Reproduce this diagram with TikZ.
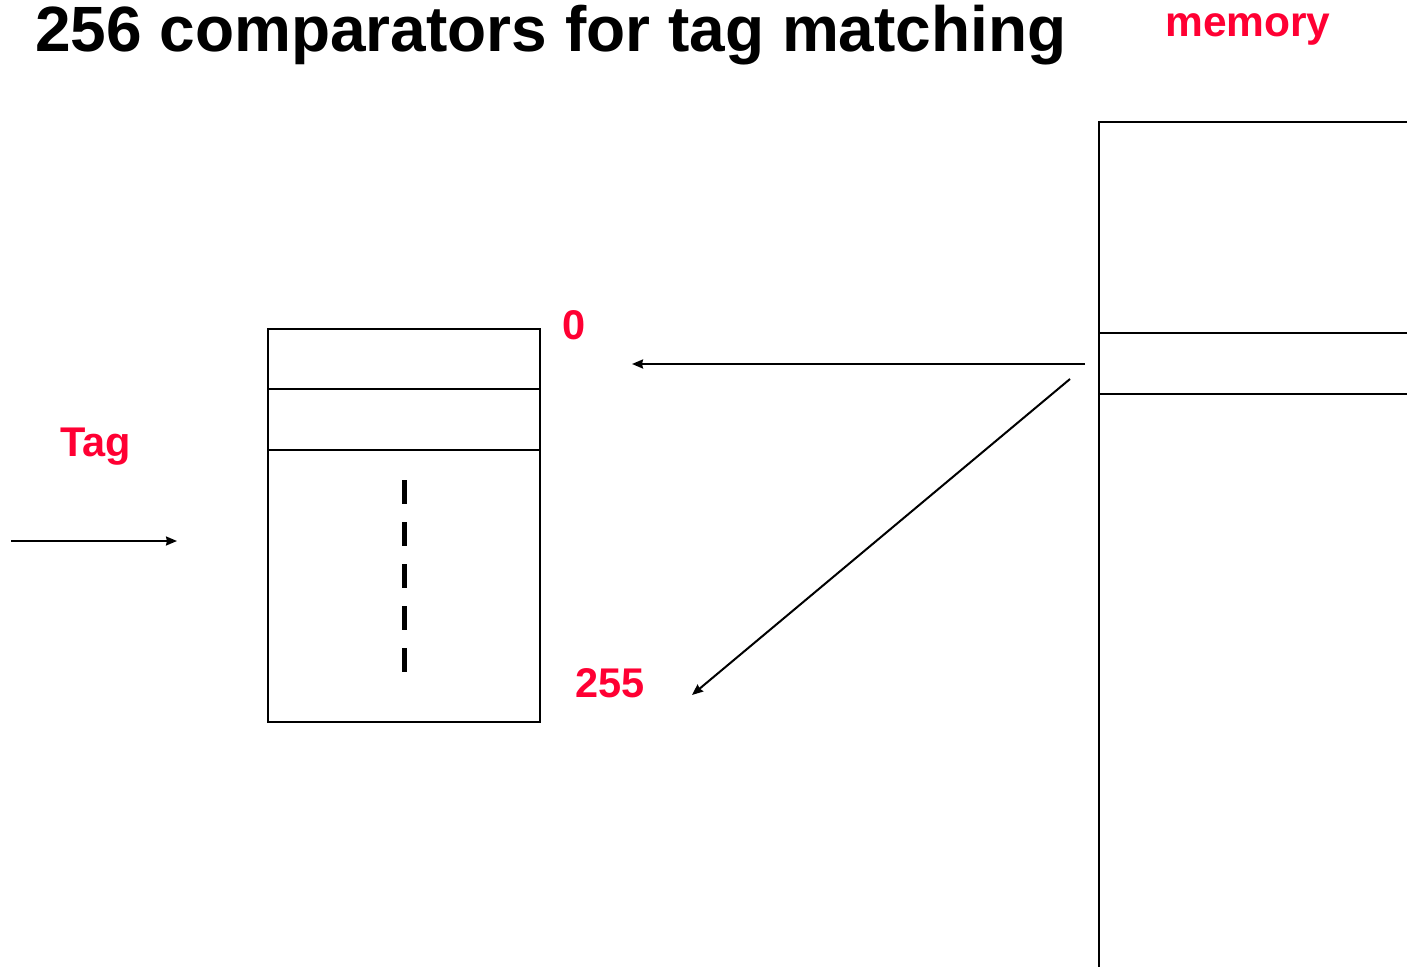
\documentclass[tikz,border=0pt]{standalone}
\usepackage{fontspec}
\setmainfont{Liberation Sans}
\usetikzlibrary{arrows.meta}
\definecolor{labelred}{HTML}{FF0033}
\begin{document}
\begin{tikzpicture}[x=1pt,y=-1pt,
  frame/.style={draw=black,line width=2pt},
  link/.style={draw=black,line width=2pt,-{Stealth[length=11pt,width=9pt,inset=1pt]}},
  redlabel/.style={text=labelred,font=\bfseries\fontsize{41.5}{41.5}\selectfont,inner sep=0pt,anchor=base west},
  title/.style={font=\bfseries\fontsize{64}{64}\selectfont,inner sep=0pt,anchor=base west}]
\useasboundingbox[fill=white] (0,0) rectangle (1407,966);

% heading and memory label
\node[title] (heading) at (35,52) {256 comparators for tag matching};
\node[redlabel,font=\bfseries\fontsize{42.5}{42.5}\selectfont] (memlabel) at (1165,37) {memory};

% comparator array: 256 entries
\node[frame,minimum width=272pt,minimum height=393pt,inner sep=0pt] (cmp) at (404,525.5) {};
\draw[frame] (268,389) -- (540,389);
\draw[frame] (268,450) -- (540,450);
\draw[line width=5pt,dash pattern=on 24pt off 18pt] (404,480) -- (404,672);

% memory block, running past the right and bottom edges
\draw[frame] (1420,122) -- (1099,122) -- (1099,980);
\draw[frame] (1099,333) -- (1420,333);
\draw[frame] (1099,394) -- (1420,394);

% index labels and tag input
\node[redlabel] (first) at (562,339) {0};
\node[redlabel] (last) at (575,697) {255};
\node[redlabel] (tag) at (60,456) {Tag};

% connectors
\coordinate (tagfrom) at (11,541);
\coordinate (tagto) at (177,541);
\coordinate (memfrom) at (1085,364);
\coordinate (topto) at (632,364);
\coordinate (diagfrom) at (1070,379);
\coordinate (bottomto) at (692,695);
\draw[link] (tagfrom) -- (tagto);
\draw[link] (memfrom) -- (topto);
\draw[link] (diagfrom) -- (bottomto);
\end{tikzpicture}
\end{document}
